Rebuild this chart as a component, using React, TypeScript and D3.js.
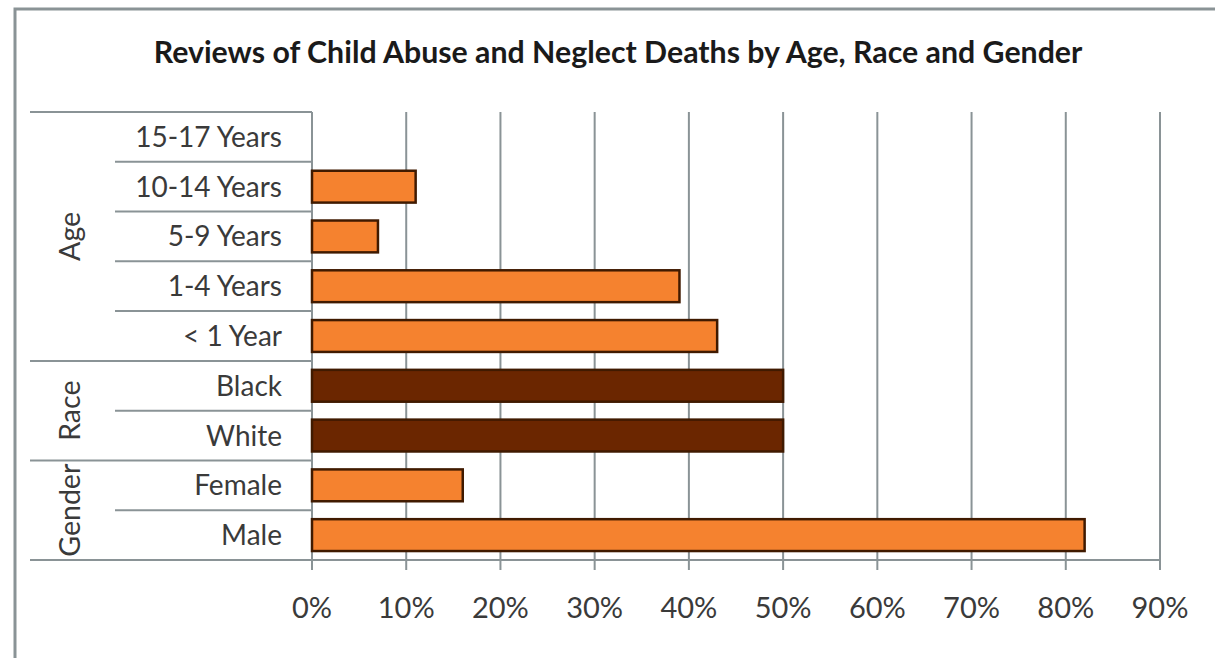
import React from "react";
import * as d3 from "d3";

const categories = ["15-17 Years", "10-14 Years", "5-9 Years", "1-4 Years", "< 1 Year", "Black", "White", "Female", "Male"];
const values = [0, 11, 7, 39, 43, 50, 50, 16, 82];
const groups = ["Age", "Age", "Age", "Age", "Age", "Race", "Race", "Gender", "Gender"];
const groupNames = ["Age", "Race", "Gender"];
const ticks = [0, 10, 20, 30, 40, 50, 60, 70, 80, 90];
const title = "Reviews of Child Abuse and Neglect Deaths by Age, Race and Gender";

const W = 1215, H = 658;
const FONT = "Lato, 'Open Sans', sans-serif";
const LINE = "#8a9396";
const TEXT = "#3a3a3a";

export default function App() {
  const x = d3.scaleLinear().domain([0, 90]).range([312, 1160]);
  const yb = d3.scaleBand().domain(categories).range([112, 560]).padding(0);
  const rowH = yb.bandwidth();

  const groupRanges = groupNames.map((g) => {
    const idx = categories.map((_, i) => i).filter((i) => groups[i] === g);
    const start = yb(categories[idx[0]]) as number;
    const end = (yb(categories[idx[idx.length - 1]]) as number) + rowH;
    return { g, start, end };
  });

  return (
    <svg width={W} height={H} style={{ position: "absolute", left: 0, top: 0, background: "#fff" }}>
      <rect x={0} y={0} width={W} height={H} fill="#fff" />
      <rect x={15} y={9} width={1230} height={700} fill="none" stroke={LINE} strokeWidth={3} />
      <text x={618} y={63} textAnchor="middle" fontFamily={FONT} fontWeight="bold" fontSize={30.3} fill="#1a1a1a">
        {title}
      </text>
      {ticks.slice(1).map((t) => (
        <line key={t} x1={x(t)} x2={x(t)} y1={112} y2={570} stroke={LINE} strokeWidth={2} />
      ))}
      <line x1={30} x2={x(90)} y1={560} y2={560} stroke={LINE} strokeWidth={2} />
      <line x1={x(0)} x2={x(0)} y1={112} y2={570} stroke={LINE} strokeWidth={2} />
      <line x1={30} x2={x(0)} y1={112} y2={112} stroke={LINE} strokeWidth={2} />
      {categories.slice(1).map((c, i) => {
        const idx = i + 1;
        const isGroupStart = groups[idx] !== groups[idx - 1];
        const yy = yb(c) as number;
        return <line key={c} x1={isGroupStart ? 30 : 115} x2={x(0)} y1={yy} y2={yy} stroke={LINE} strokeWidth={2} />;
      })}
      {categories.map((c, i) =>
        values[i] > 0 ? (
          <rect
            key={c}
            x={x(0)}
            y={(yb(c) as number) + rowH * 0.18}
            width={x(values[i]) - x(0)}
            height={rowH * 0.64}
            fill={groups[i] === "Race" ? "#6b2600" : "#f5822f"}
            stroke="#401a00"
            strokeWidth={2.5}
          />
        ) : null
      )}
      {categories.map((c) => (
        <text key={c} x={282} y={(yb(c) as number) + rowH / 2 + 10} textAnchor="end" fontFamily={FONT} fontSize={28} fill={TEXT}>
          {c}
        </text>
      ))}
      {groupRanges.map((r) => (
        <text
          key={r.g}
          transform={`translate(80,${(r.start + r.end) / 2}) rotate(-90)`}
          textAnchor="middle"
          fontFamily={FONT}
          fontSize={28.5}
          fill={TEXT}
        >
          {r.g}
        </text>
      ))}
      {ticks.map((t) => (
        <text key={t} x={x(t)} y={618} textAnchor="middle" fontFamily={FONT} fontSize={29} fill={TEXT}>
          {`${t}%`}
        </text>
      ))}
    </svg>
  );
}
